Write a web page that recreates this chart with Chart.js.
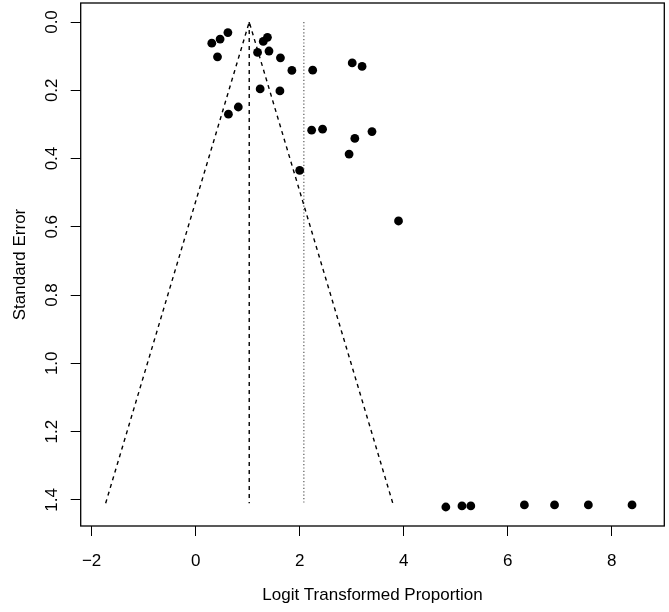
<!DOCTYPE html>
<html>
<head>
<meta charset="utf-8">
<script src="https://cdn.jsdelivr.net/npm/chart.js@4"></script>
<style>
  html, body { margin: 0; padding: 0; background: #fff; }
  canvas { display: block; }
</style>
</head>
<body>
<canvas id="funnelChart" width="669" height="612"></canvas>
<script>
// study estimates (logit proportion) and their standard errors
var estimates = [0.31, 0.47, 0.62, 0.42, 1.19, 1.30, 1.38, 1.41, 1.63, 1.85,
                 1.24, 1.62, 0.63, 0.82, 2.25, 3.01, 3.20, 2.23, 2.44, 3.39,
                 3.06, 2.95, 2.00, 3.90, 4.81, 5.12, 5.29, 6.32, 6.90, 7.55, 8.39];
var stdErrors = [0.062, 0.050, 0.031, 0.102, 0.089, 0.057, 0.045, 0.085, 0.105, 0.142,
                 0.196, 0.202, 0.270, 0.249, 0.141, 0.120, 0.130, 0.317, 0.314, 0.321,
                 0.341, 0.387, 0.435, 0.583, 1.421, 1.418, 1.418, 1.415, 1.415, 1.415, 1.415];

// pseudo confidence funnel and reference lines
var funnelX = [-1.73, 1.03, 3.79];
var funnelSE = [1.41, 0, 1.41];
var pooledX = [1.03, 1.03];
var pooledSE = [0, 1.41];
var refX = [2.08, 2.08];
var refSE = [0, 1.41];

var xTicks = [-2, 0, 2, 4, 6, 8];
var yTicks = [0, 0.2, 0.4, 0.6, 0.8, 1.0, 1.2, 1.4];

function toPoints(xs, ys) {
    return xs.map(function (x, i) { return { x: x, y: ys[i] }; });
}

var FONT = { family: 'Liberation Sans, Arial, sans-serif', size: 17 };

// box around the plot region like R's box()
var plotBox = {
    id: 'plotBox',
    afterDraw: function (chart) {
        var a = chart.chartArea, ctx = chart.ctx;
        ctx.save();
        ctx.strokeStyle = '#000';
        ctx.lineWidth = 1.3;
        ctx.strokeRect(a.left, a.top, a.right - a.left, a.bottom - a.top);
        ctx.restore();
    }
};

var ctx = document.getElementById('funnelChart').getContext('2d');
var chart = new Chart(ctx, {
    type: 'scatter',
    data: {
        datasets: [
            {
                label: 'studies',
                data: toPoints(estimates, stdErrors),
                backgroundColor: '#000',
                borderWidth: 0,
                pointRadius: 4.4
            },
            {
                label: 'funnel',
                data: toPoints(funnelX, funnelSE),
                showLine: true,
                borderColor: '#000',
                borderWidth: 1.4,
                borderDash: [4, 4],
                pointRadius: 0
            },
            {
                label: 'pooled',
                data: toPoints(pooledX, pooledSE),
                showLine: true,
                borderColor: '#000',
                borderWidth: 1.4,
                borderDash: [4, 4],
                pointRadius: 0
            },
            {
                label: 'reference',
                data: toPoints(refX, refSE),
                showLine: true,
                borderColor: '#666',
                borderWidth: 1.3,
                borderDash: [1.2, 2.2],
                pointRadius: 0
            }
        ]
    },
    options: {
        responsive: false,
        animation: false,
        layout: { autoPadding: false, padding: { top: 3, right: 4.7, left: 0, bottom: 0 } },
        plugins: {
            legend: { display: false },
            tooltip: { enabled: false }
        },
        scales: {
            x: {
                type: 'linear',
                min: -2.21,
                max: 9.01,
                afterBuildTicks: function (scale) {
                    scale.ticks = xTicks.map(function (v) { return { value: v }; });
                },
                afterFit: function (scale) {
                    scale.height = 86;
                    scale.paddingLeft = 0;
                    scale.paddingRight = 0;
                },
                border: { display: false },
                grid: { drawOnChartArea: false, drawTicks: true, tickLength: 10, color: '#000', lineWidth: 1 },
                ticks: {
                    color: '#000',
                    font: FONT,
                    padding: 15,
                    maxRotation: 0,
                    callback: function (v) { return v < 0 ? '\u2212' + Math.abs(v) : String(v); }
                },
                title: {
                    display: true,
                    text: 'Logit Transformed Proportion',
                    color: '#000',
                    font: FONT,
                    padding: { top: 0, bottom: 6 }
                }
            },
            y: {
                type: 'linear',
                reverse: true,
                min: -0.0557,
                max: 1.4767,
                afterBuildTicks: function (scale) {
                    scale.ticks = yTicks.map(function (v) { return { value: v }; });
                },
                afterFit: function (scale) {
                    scale.width = 80.7;
                    scale.paddingTop = 0;
                    scale.paddingBottom = 0;
                },
                border: { display: false },
                grid: { drawOnChartArea: false, drawTicks: true, tickLength: 10, color: '#000', lineWidth: 1 },
                ticks: {
                    color: '#000',
                    font: FONT,
                    padding: 7,
                    minRotation: 90,
                    maxRotation: 90,
                    crossAlign: 'center',
                    callback: function (v) { return Number(v).toFixed(1); }
                },
                title: {
                    display: true,
                    text: 'Standard Error',
                    color: '#000',
                    font: FONT,
                    padding: { top: 10, bottom: 0 }
                }
            }
        }
    },
    plugins: [plotBox]
});
</script>
</body>
</html>
